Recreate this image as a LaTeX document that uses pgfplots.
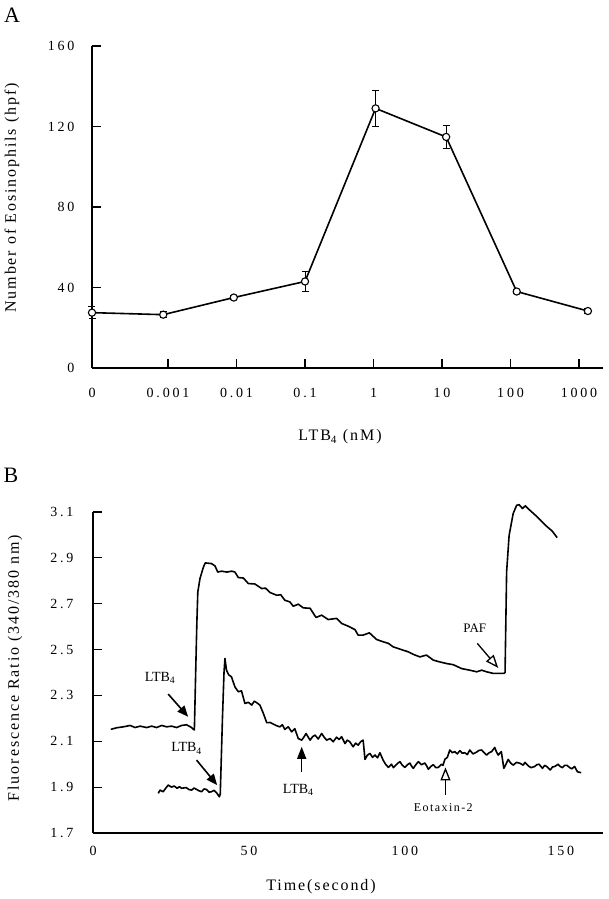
\documentclass[border=0pt]{standalone}
\usepackage{fontspec}
\setmainfont{Liberation Serif}
\newfontfamily\tickfont{Liberation Serif}[LetterSpace=20]
\newfontfamily\labelfont{Liberation Serif}[LetterSpace=12]
\usepackage{pgfplots}
\pgfplotsset{compat=1.18}
\usetikzlibrary{arrows.meta}
\begin{document}
\begin{tikzpicture}[x=1pt,y=1pt]
\useasboundingbox (0,0) rectangle (608,899);
% ---------------- Panel A ----------------
\begin{axis}[
 at={(92pt,531pt)}, anchor=south west, scale only axis, width=511pt, height=322pt,
 xmin=-0.11, xmax=7.35, ymin=0, ymax=160,
 axis lines*=left, axis line style={line width=1.3pt},
 tick align=inside, major tick length=9pt, tick style={line width=1.2pt, black},
 xtick={-0.11,1,2,3,4,5,6,7}, xticklabels={0,0.001,0.01,0.1,1,10,100,1000},
 ytick={0,40,80,120,160}, yticklabels={0,40,80,120,160},
 ticklabel style={font=\tickfont\fontsize{14}{16}\selectfont},
 xticklabel style={yshift=-17pt},
 yticklabel style={xshift=-14pt},
 clip=false,
]
\addplot[black, line width=1.6pt, mark=*, mark size=3.6pt, mark options={fill=white, draw=black, line width=1.1pt},
 error bars/.cd, y dir=both, y explicit, error bar style={line width=1pt, black}, error mark=|, error mark options={mark size=3.5pt, line width=1pt, black}]
 coordinates {
 (-0.11,27.5) +- (0,3)
 (0.93,26.5) +- (0,1.5)
 (1.96,35) +- (0,1)
 (3.0,43) +- (0,4.8)
 (4.03,129) +- (0,8.8)
 (5.06,114.8) +- (0,5.7)
 (6.09,38) +- (0,1)
 (7.13,28.3) +- (0,1.3)
 };
\end{axis}
% ---------------- Panel B ----------------
\begin{axis}[
 at={(93pt,66pt)}, anchor=south west, scale only axis, width=510pt, height=321pt,
 xmin=0, xmax=163.5, ymin=1.7, ymax=3.1,
 axis lines*=left, axis line style={line width=1.3pt},
 tick align=inside, major tick length=9pt, tick style={line width=1.2pt, black},
 xtick={0,50,100,150}, xticklabels={0,50,100,150},
 xtick style={draw=none},
 ytick={1.7,1.9,2.1,2.3,2.5,2.7,2.9,3.1}, yticklabels={1.7,1.9,2.1,2.3,2.5,2.7,2.9,3.1},
 ticklabel style={font=\tickfont\fontsize{14}{16}\selectfont},
 xticklabel style={yshift=-10pt},
 yticklabel style={xshift=-16pt},
 clip=false,
]
\addplot[black, line width=1.6pt, line join=round] coordinates {
(5.7,2.152) (7.6,2.159) (9.7,2.163) (11.9,2.169) (13.5,2.160) (15.1,2.166) (17.2,2.160) (18.8,2.166) (20.4,2.160) (22.0,2.169) (23.6,2.163) (25.2,2.166) (26.8,2.160) (28.4,2.169) (30.0,2.172) (31.6,2.160) (32.2,2.152) (32.5,2.150) (33.0,2.45) (33.3,2.62) (33.6,2.751) (34.3,2.81) (35.4,2.86) (36.0,2.878) (38.0,2.875) (39.1,2.865) (40.0,2.838) (41.2,2.842) (42.9,2.838) (44.5,2.842) (45.5,2.838) (46.6,2.814) (48.2,2.812) (49.8,2.788) (51.9,2.786) (54.1,2.766) (55.3,2.768) (56.7,2.749) (58.9,2.737) (60.2,2.739) (61.5,2.715) (63.1,2.708) (64.2,2.689) (65.8,2.698) (67.4,2.682) (69.6,2.680) (71.5,2.640) (73.3,2.650) (75.4,2.631) (78.1,2.636) (79.7,2.614) (81.8,2.602) (84.0,2.587) (85.0,2.563) (86.6,2.563) (88.6,2.573) (90.9,2.544) (93.0,2.534) (94.7,2.527) (96.2,2.512) (98.4,2.502) (101.1,2.490) (102.7,2.479) (104.8,2.468) (106.9,2.476) (109.1,2.454) (111.2,2.446) (113.4,2.439) (115.5,2.434) (118.2,2.417) (120.8,2.410) (123.0,2.403) (124.6,2.410) (126.2,2.403) (128.3,2.396) (131.7,2.396) (132.1,2.40) (132.6,2.839) (133.4,2.998) (134.7,3.093) (135.8,3.129) (136.6,3.132) (137.7,3.115) (138.6,3.127) (140.1,3.107) (141.5,3.09) (143.5,3.064) (145.4,3.038) (147.2,3.017) (148.8,2.988)
};
\addplot[black, line width=1.6pt, line join=round] coordinates {
(20.9,1.873) (21.5,1.887) (22.5,1.880) (23.3,1.895) (24.1,1.909) (25.2,1.900) (26.0,1.905) (27.0,1.895) (27.7,1.902) (28.4,1.895) (29.9,1.898) (30.7,1.890) (31.6,1.887) (32.4,1.896) (33.2,1.890) (34.0,1.884) (34.8,1.880) (35.6,1.892) (36.4,1.890) (37.2,1.878) (38.0,1.880) (38.8,1.886) (39.6,1.876) (40.5,1.858) (40.8,1.87) (41.5,2.2) (42.0,2.40) (42.3,2.461) (42.8,2.41) (43.5,2.39) (44.4,2.381) (45.5,2.337) (46.6,2.316) (47.6,2.32) (48.7,2.265) (49.8,2.27) (50.9,2.258) (51.7,2.275) (52.5,2.268) (53.5,2.258) (54.6,2.222) (55.7,2.181) (56.8,2.182) (57.8,2.175) (58.8,2.168) (59.9,2.163) (60.7,2.172) (61.5,2.152) (62.6,2.163) (63.7,2.141) (64.7,2.155) (65.8,2.112) (66.9,2.105) (67.6,2.118) (68.3,2.134) (69.0,2.118) (69.6,2.105) (70.4,2.120) (71.2,2.127) (72.2,2.11) (73.3,2.134) (74.1,2.118) (74.9,2.105) (76.0,2.112) (77.0,2.098) (78.1,2.118) (78.9,2.108) (79.7,2.120) (80.8,2.09) (81.5,2.105) (82.3,2.098) (83.4,2.076) (84.2,2.092) (85.0,2.083) (85.8,2.098) (86.6,2.105) (87.2,2.021) (88.0,2.040) (88.8,2.047) (89.6,2.030) (90.4,2.040) (91.2,2.028) (92.0,2.050) (93.0,2.018) (93.8,2.000) (94.7,1.986) (95.7,2.00) (96.3,1.985) (96.8,1.992) (97.6,2.003) (98.4,2.011) (99.2,1.995) (100.0,1.986) (100.8,1.998) (101.6,2.005) (102.2,1.990) (102.7,1.982) (103.5,1.998) (104.3,2.011) (105.3,1.998) (106.4,2.005) (107.0,1.992) (107.5,1.978) (108.3,1.990) (109.1,1.998) (109.9,1.985) (110.7,1.986) (111.7,2.00) (112.2,1.995) (112.8,2.021) (113.6,2.030) (114.4,2.062) (115.2,2.050) (116.0,2.055) (116.8,2.045) (117.6,2.059) (118.4,2.048) (119.2,2.050) (120.0,2.042) (120.8,2.062) (121.8,2.045) (122.9,2.052) (123.7,2.060) (124.6,2.062) (125.4,2.050) (126.2,2.040) (127.0,2.050) (127.8,2.055) (128.8,2.073) (129.3,2.055) (129.9,2.040) (130.9,2.055) (131.7,1.982) (132.4,2.000) (133.1,2.021) (133.9,2.005) (134.7,1.996) (135.8,2.008) (136.9,2.004) (137.9,1.996) (138.5,2.008) (139.0,2.0) (139.8,1.990) (140.5,1.985) (141.6,1.990) (142.3,1.998) (143.0,2.0) (143.6,1.990) (144.1,1.982) (144.8,1.995) (145.5,1.99) (146.6,1.975) (147.3,1.988) (148.0,1.99) (148.6,1.995) (149.1,2.0) (149.8,1.990) (150.5,1.985) (151.2,1.995) (152.0,1.995) (152.8,1.985) (153.5,1.98) (154.4,1.990) (155.3,1.967) (156.5,1.963)
};
% annotations
\node[font=\fontsize{14}{16}\selectfont] at (axis cs:21.5,2.375) {LTB\textsubscript{4}};
\draw[line width=1.6pt, -{Triangle[length=11pt,width=9pt]}] (axis cs:24.1,2.306) -- (axis cs:30.5,2.207);
\node[font=\fontsize{14}{16}\selectfont] at (axis cs:30.0,2.069) {LTB\textsubscript{4}};
\draw[line width=1.6pt, -{Triangle[length=11pt,width=9pt]}] (axis cs:33.2,2.018) -- (axis cs:39.8,1.909);
\node[font=\fontsize{14}{16}\selectfont] at (axis cs:65.8,1.887) {LTB\textsubscript{4}};
\draw[line width=1.3pt, -{Triangle[length=12pt,width=9pt]}] (axis cs:66.9,1.967) -- (axis cs:66.9,2.076);
\node[font=\labelfont\fontsize{12}{14}\selectfont] at (axis cs:112.3,1.812) {Eotaxin-2};
\draw[line width=1.3pt, -{Triangle[open,length=13pt,width=10pt,fill=white]}] (axis cs:113,1.866) -- (axis cs:113,1.986);
\node[font=\fontsize{13}{15}\selectfont] at (axis cs:122.4,2.592) {PAF};
\draw[line width=1.3pt, -{Triangle[open,length=13pt,width=10pt,fill=white]}] (axis cs:123.2,2.527) -- (axis cs:129.9,2.420);
\end{axis}
% ---------------- labels ----------------
\node[font=\fontsize{22}{24}\selectfont] at (12,884) {A};
\node[font=\fontsize{22}{24}\selectfont] at (11,424) {B};
\node[rotate=90, font=\labelfont\fontsize{16}{18}\selectfont] at (12,701) {Number of Eosinophils (hpf)};
\node[font=\labelfont\fontsize{16}{18}\selectfont] at (340,462) {LTB\textsubscript{4} (nM)};
\node[rotate=90, font=\labelfont\fontsize{16}{18}\selectfont] at (15,231) {Fluorescence Ratio (340/380 nm)};
\node[font=\labelfont\fontsize{16}{18}\selectfont] at (321,12) {Time(second)};
\end{tikzpicture}
\end{document}
